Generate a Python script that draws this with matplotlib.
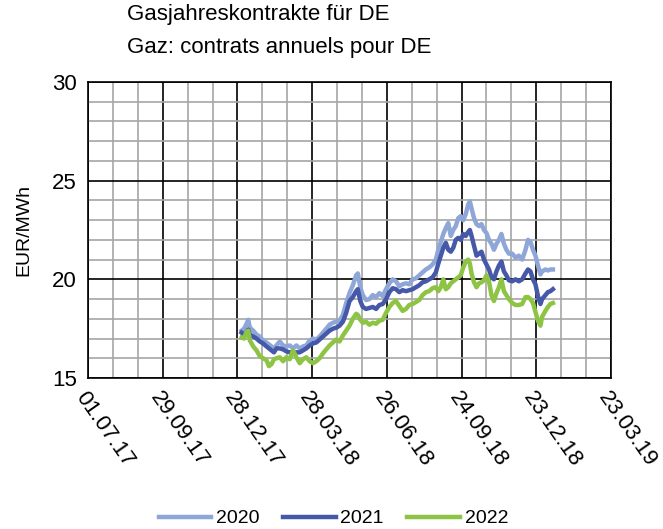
import matplotlib
matplotlib.use("Agg")
import matplotlib.pyplot as plt
import matplotlib.dates as mdates
from matplotlib.ticker import MultipleLocator, FixedLocator
import pandas as pd

plt.rcParams['font.family'] = ['Liberation Sans', 'DejaVu Sans']

title_de = "Gasjahreskontrakte für DE"
title_fr = "Gaz: contrats annuels pour DE"
y_label = "EUR/MWh"
series_names = ["2020", "2021", "2022"]
colors = ["#8EA6D8", "#4559A8", "#8DC443"]

dates = [
    "02.01.18", "05.01.18", "08.01.18", "10.01.18", "12.01.18", "16.01.18", "20.01.18", "24.01.18",
    "28.01.18", "01.02.18", "04.02.18", "07.02.18", "10.02.18", "13.02.18", "17.02.18", "21.02.18",
    "25.02.18", "01.03.18", "05.03.18", "09.03.18", "13.03.18", "17.03.18", "21.03.18", "25.03.18",
    "29.03.18", "02.04.18", "06.04.18", "10.04.18", "14.04.18", "18.04.18", "22.04.18", "26.04.18",
    "30.04.18", "04.05.18", "08.05.18", "12.05.18", "16.05.18", "20.05.18", "22.05.18", "25.05.18",
    "28.05.18", "01.06.18", "05.06.18", "09.06.18", "13.06.18", "17.06.18", "21.06.18", "25.06.18",
    "29.06.18", "03.07.18", "07.07.18", "11.07.18", "15.07.18", "19.07.18", "23.07.18", "27.07.18",
    "31.07.18", "04.08.18", "08.08.18", "12.08.18", "16.08.18", "20.08.18", "24.08.18", "27.08.18",
    "30.08.18", "02.09.18", "05.09.18", "08.09.18", "11.09.18", "14.09.18", "17.09.18", "20.09.18",
    "23.09.18", "26.09.18", "29.09.18", "02.10.18", "04.10.18", "06.10.18", "09.10.18", "12.10.18",
    "15.10.18", "18.10.18", "21.10.18", "24.10.18", "27.10.18", "30.10.18", "02.11.18", "05.11.18",
    "08.11.18", "11.11.18", "14.11.18", "17.11.18", "20.11.18", "24.11.18", "28.11.18", "02.12.18",
    "06.12.18", "10.12.18", "13.12.18", "16.12.18", "19.12.18", "22.12.18", "25.12.18", "28.12.18",
    "30.12.18", "03.01.19", "06.01.19", "09.01.19", "12.01.19",
]

values_2020 = [
    17.4, 17.5, 17.75, 17.95, 17.55, 17.4, 17.2, 17.1,
    16.9, 16.8, 16.7, 16.6, 16.5, 16.65, 16.85, 16.65,
    16.6, 16.65, 16.5, 16.65, 16.5, 16.6, 16.65, 16.9,
    17.0, 16.95, 17.1, 17.3, 17.5, 17.7, 17.8, 17.85,
    17.9, 18.2, 18.8, 19.3, 19.7, 20.2, 20.3, 19.6,
    19.2, 18.95, 19.0, 19.2, 19.1, 19.3, 19.15, 19.5,
    19.8, 20.0, 19.9, 19.65, 19.75, 19.8, 19.75, 20.0,
    20.05, 20.2, 20.35, 20.5, 20.6, 20.75, 21.0, 21.5,
    21.9, 22.3, 22.6, 22.85, 22.2, 22.5, 22.7, 23.1,
    23.2, 23.0, 23.3, 23.8, 23.95, 23.6, 23.1, 22.8,
    22.7, 22.8, 22.5, 22.35, 22.0, 21.8, 21.5, 21.8,
    22.0, 22.3, 21.8, 21.5, 21.3, 21.3, 21.1, 21.2,
    21.0, 21.5, 22.0, 21.9, 21.5, 21.2, 20.7, 20.25,
    20.4, 20.5, 20.45, 20.5, 20.5,
]

values_2021 = [
    17.3, 17.2, 17.35, 17.45, 17.2, 17.1, 17.0, 16.85,
    16.75, 16.6, 16.5, 16.4, 16.3, 16.5, 16.5, 16.45,
    16.35, 16.3, 16.3, 16.3, 16.3, 16.4, 16.5, 16.65,
    16.75, 16.8, 16.95, 17.1, 17.25, 17.4, 17.5, 17.55,
    17.65, 17.85, 18.3, 18.9, 19.1, 19.4, 19.5, 18.9,
    18.6, 18.5, 18.55, 18.6, 18.5, 18.7, 18.75, 19.0,
    19.35, 19.55, 19.5, 19.35, 19.45, 19.4, 19.45, 19.5,
    19.6, 19.7, 19.85, 19.9, 20.0, 20.1, 20.35, 20.8,
    21.2, 21.6, 21.85, 21.5, 21.4, 21.6, 22.0, 22.1,
    22.0, 22.3, 22.2, 22.4, 22.5, 22.2, 21.7, 21.2,
    21.3, 21.4, 21.0, 20.75, 20.5, 20.1, 20.0, 20.4,
    20.7, 20.9, 20.4, 20.2, 19.95, 19.9, 20.0, 19.9,
    20.0, 20.3, 20.5, 20.4, 20.0, 19.75, 19.15, 18.75,
    19.0, 19.2, 19.35, 19.4, 19.5,
]

values_2022 = [
    17.05, 17.0, 17.35, 17.4, 16.9, 16.6, 16.4, 16.1,
    16.0, 15.9, 15.6, 15.7, 15.95, 16.0, 16.05, 15.85,
    16.05, 15.95, 16.4, 16.05, 15.75, 15.95, 16.05, 15.85,
    15.75, 15.85, 16.0, 16.25, 16.45, 16.65, 16.8, 16.95,
    16.85, 17.15, 17.4, 17.65, 18.0, 18.25, 18.2, 17.95,
    17.8, 17.85, 17.7, 17.8, 17.75, 17.9, 17.95, 18.3,
    18.6, 18.8, 18.9, 18.65, 18.4, 18.5, 18.7, 18.75,
    18.85, 18.95, 19.2, 19.35, 19.4, 19.55, 19.6, 19.4,
    19.6, 20.0, 19.5, 19.6, 19.8, 19.9, 20.0, 20.1,
    20.2, 20.6, 20.9, 21.0, 20.8, 20.3, 19.85, 19.6,
    19.8, 19.85, 19.95, 20.2, 19.9, 19.2, 18.9, 19.3,
    19.6, 20.0, 19.4, 19.2, 19.0, 18.8, 18.7, 18.7,
    18.75, 19.1, 19.1, 19.0, 18.8, 18.35, 17.9, 17.65,
    18.1, 18.4, 18.6, 18.75, 18.8,
]

x_start = "01.07.17"
x_end = "23.03.19"
y_min, y_max = 15, 30

x = pd.to_datetime(dates, format="%d.%m.%y")
xs = pd.to_datetime(x_start, format="%d.%m.%y")
xe = pd.to_datetime(x_end, format="%d.%m.%y")

fig = plt.figure(figsize=(6.63, 5.29), dpi=100)
ax = fig.add_axes([88 / 663, 1 - 378 / 529, (611 - 88) / 663, (378 - 82) / 529])

for vals, name, c in zip([values_2020, values_2021, values_2022], series_names, colors):
    ax.plot(x, vals, color=c, lw=3.2, label=name, solid_joinstyle='round', zorder=3)

ax.set_xlim(xs, xe)
ax.set_ylim(y_min, y_max)

major_x = pd.date_range(xs, xe, freq="90D")
minor_x = pd.date_range(xs, xe, freq="30D")
ax.xaxis.set_major_locator(FixedLocator(mdates.date2num(major_x)))
ax.xaxis.set_minor_locator(FixedLocator(mdates.date2num(minor_x)))
ax.xaxis.set_major_formatter(mdates.DateFormatter("%d.%m.%y"))
ax.yaxis.set_major_locator(MultipleLocator(5))
ax.yaxis.set_minor_locator(MultipleLocator(1))

ax.grid(which='minor', color='#A6A6A6', lw=1.2, zorder=0)
ax.grid(which='major', color='black', lw=1.2, zorder=1)
ax.set_axisbelow(True)
for s in ax.spines.values():
    s.set_color('black')
    s.set_linewidth(1.2)

ax.tick_params(which='both', length=0)
ax.tick_params(axis='y', labelsize=16, pad=8)
ax.tick_params(axis='x', labelsize=16, pad=7)
for lab in ax.get_xticklabels():
    lab.set_rotation(-55)
    lab.set_ha('left')
    lab.set_va('top')
    lab.set_rotation_mode('anchor')

ax.set_ylabel(y_label, fontsize=14, labelpad=14)

fig.text(127 / 663, 1 - 20 / 529, title_de, fontsize=16, ha='left', va='baseline')
fig.text(127 / 663, 1 - 53 / 529, title_fr, fontsize=16, ha='left', va='baseline')

fig.legend(loc='lower center', bbox_to_anchor=(0.503, -0.03), ncol=3, frameon=False,
           fontsize=14, handlelength=2.7, columnspacing=1.2, handletextpad=0.25)

fig.savefig("out.png", dpi=100)
